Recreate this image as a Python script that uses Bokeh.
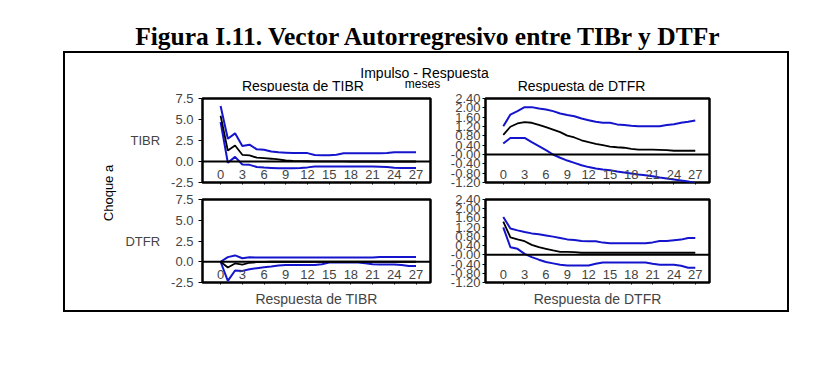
import math
from bokeh.plotting import figure
from bokeh.layouts import column, row
from bokeh.models import Span, FixedTicker, Spacer, Range1d, AllLabels
from bokeh.embed import file_html
from bokeh.resources import INLINE
from bokeh.core.properties import value

# ---------------- data ----------------
periods = list(range(28))
x_ticks = [0, 3, 6, 9, 12, 15, 18, 21, 24, 27]
x_tick_labels = ["0", "3", "6", "9", "12", "15", "18", "21", "24", "27"]
left_y_ticks = [-2.5, 0.0, 2.5, 5.0, 7.5]
left_y_labels = ["-2.5", "0.0", "2.5", "5.0", "7.5"]
right_y_ticks = [-1.2, -0.8, -0.4, 0.0, 0.4, 0.8, 1.2, 1.6, 2.0, 2.4]
right_y_labels = ["-1.20", "-0.80", "-0.40", "-0.00", "0.40", "0.80", "1.20", "1.60", "2.00", "2.40"]

# shock TIBR -> response TIBR
tibr_tibr = [5.45, 1.3, 1.9, 0.8, 0.73, 0.45, 0.4, 0.33, 0.25, 0.12, 0.06, 0.04, 0.03, 0.02, 0.02, 0.01,
             0.01, 0.01, 0.0, 0.0, 0.0, 0.0, 0.0, 0.0, 0.0, 0.0, 0.0, 0.0]
tibr_tibr_hi = [6.6, 2.7, 3.35, 1.85, 2.0, 1.45, 1.4, 1.2, 1.1, 1.05, 1.0, 1.0, 1.0, 0.78, 0.75, 0.75,
                0.8, 0.97, 0.97, 0.97, 0.97, 0.97, 0.97, 1.0, 1.1, 1.1, 1.1, 1.1]
tibr_tibr_lo = [4.7, -0.15, 0.55, -0.35, -0.4, -0.65, -0.72, -0.76, -0.8, -0.8, -0.8, -0.78, -0.7, -0.6,
                -0.6, -0.6, -0.6, -0.6, -0.6, -0.6, -0.6, -0.6, -0.62, -0.66, -0.75, -0.78, -0.78, -0.78]

# shock TIBR -> response DTFR
tibr_dtfr = [0.84, 1.19, 1.33, 1.39, 1.36, 1.27, 1.17, 1.07, 0.96, 0.81, 0.73, 0.61, 0.53, 0.46, 0.40,
             0.34, 0.31, 0.29, 0.24, 0.21, 0.21, 0.21, 0.2, 0.19, 0.16, 0.16, 0.16, 0.16]
tibr_dtfr_hi = [1.21, 1.71, 1.86, 2.03, 2.03, 1.97, 1.93, 1.86, 1.76, 1.69, 1.64, 1.54, 1.47, 1.40, 1.36,
                1.36, 1.29, 1.26, 1.23, 1.21, 1.21, 1.21, 1.21, 1.26, 1.30, 1.36, 1.40, 1.46]
tibr_dtfr_lo = [0.47, 0.71, 0.71, 0.71, 0.53, 0.36, 0.19, 0.0, -0.14, -0.26, -0.36, -0.46, -0.54, -0.6,
                -0.64, -0.67, -0.73, -0.77, -0.81, -0.86, -0.89, -0.93, -0.99, -1.03, -1.07, -1.11, -1.16, -1.22]

# shock DTFR -> response TIBR
dtfr_tibr = [0.0, -0.7, -0.2, -0.35, -0.12, -0.05, -0.02, 0.0, 0.0, 0.0, 0.0, 0.0, 0.0, 0.0, 0.0, 0.0,
             0.0, 0.0, 0.0, 0.0, 0.0, 0.0, 0.0, 0.0, 0.0, 0.0, 0.0, 0.0]
dtfr_tibr_hi = [0.0, 0.56, 0.76, 0.42, 0.54, 0.5, 0.52, 0.5, 0.5, 0.5, 0.5, 0.5, 0.5, 0.5, 0.5, 0.5,
                0.5, 0.5, 0.5, 0.5, 0.5, 0.52, 0.58, 0.58, 0.58, 0.58, 0.58, 0.58]
dtfr_tibr_lo = [0.0, -2.3, -1.05, -1.1, -0.9, -0.78, -0.66, -0.58, -0.46, -0.38, -0.38, -0.38, -0.38, -0.38,
                -0.3, -0.1, -0.1, -0.1, -0.1, -0.1, -0.18, -0.3, -0.34, -0.34, -0.34, -0.38, -0.5, -0.5]

# shock DTFR -> response DTFR
dtfr_dtfr = [1.44, 0.76, 0.67, 0.59, 0.43, 0.33, 0.26, 0.19, 0.13, 0.13, 0.12, 0.09, 0.09, 0.09, 0.09,
             0.09, 0.09, 0.09, 0.09, 0.09, 0.09, 0.09, 0.09, 0.09, 0.09, 0.09, 0.09, 0.09]
dtfr_dtfr_hi = [1.64, 1.14, 1.06, 0.99, 0.93, 0.89, 0.84, 0.79, 0.73, 0.67, 0.64, 0.6, 0.59, 0.59, 0.53,
                0.5, 0.5, 0.5, 0.5, 0.5, 0.5, 0.54, 0.6, 0.6, 0.63, 0.66, 0.73, 0.73]
dtfr_dtfr_lo = [1.19, 0.33, 0.26, 0.04, -0.1, -0.21, -0.31, -0.37, -0.43, -0.46, -0.46, -0.46, -0.46, -0.39,
                -0.33, -0.33, -0.33, -0.33, -0.33, -0.33, -0.33, -0.39, -0.43, -0.43, -0.43, -0.47, -0.56, -0.56]

title_text = "Figura I.11. Vector Autorregresivo entre TIBr y DTFr"
header_texts = ["Impulso - Respuesta", "meses", "Respuesta de TIBR", "Respuesta de DTFR"]

# ---------------- styling ----------------
SANS_NAME = "Liberation Sans"
SANS = value(SANS_NAME)
BLUE = "#1414CC"


def blank(w, h):
    p = figure(width=w, height=h, x_range=Range1d(0, w), y_range=Range1d(h, 0),
               x_axis_type=None, y_axis_type=None, min_border=0,
               output_backend="svg", toolbar_location=None)
    p.outline_line_color = None
    p.grid.visible = False
    return p


def panel(resp, hi, lo, yrange, yticks, ylabels, side, ylabel=None, xlabel=None,
          top=6, bottom=8, fh=84):
    if side == "left":
        mbl, fw, mbr = 82, 228, 14
    else:
        mbl, fw, mbr = 41, 224, 78
    p = figure(frame_width=fw, frame_height=fh, min_border_left=mbl, min_border_right=mbr,
               min_border_top=top, min_border_bottom=bottom,
               x_range=Range1d(-2.5, 29), y_range=Range1d(*yrange),
               output_backend="svg", toolbar_location=None)
    p.grid.visible = False
    p.outline_line_color = "black"
    p.outline_line_width = 2.5
    p.add_layout(Span(location=0, dimension="width", line_color="black", line_width=2))
    p.line(periods, hi, line_color=BLUE, line_width=2)
    p.line(periods, lo, line_color=BLUE, line_width=2)
    p.line(periods, resp, line_color="black", line_width=1.8)

    xa = p.xaxis[0]
    xa.ticker = FixedTicker(ticks=x_ticks, minor_ticks=[])
    xa.major_label_overrides = dict(zip(x_ticks, x_tick_labels))
    xa.major_label_policy = AllLabels()
    xa.axis_line_color = None
    xa.major_tick_in = 0
    xa.major_tick_out = 2
    xa.minor_tick_out = 0
    xa.major_label_standoff = -15
    xa.major_label_text_font = SANS_NAME
    xa.major_label_text_font_size = "13px"
    if xlabel:
        xa.axis_label = xlabel
        xa.axis_label_text_font = SANS_NAME
        xa.axis_label_text_font_size = "14px"
        xa.axis_label_text_font_style = "normal"
        xa.axis_label_standoff = 9

    ya = p.yaxis[0]
    ya.ticker = FixedTicker(ticks=yticks, minor_ticks=[])
    ya.major_label_overrides = dict(zip(yticks, ylabels))
    ya.major_label_policy = AllLabels()
    ya.axis_line_color = None
    ya.major_tick_in = 0
    ya.minor_tick_out = 0
    ya.major_label_text_font = SANS_NAME
    ya.major_label_text_font_size = "13px"
    if side == "left":
        ya.major_tick_out = 4
        ya.major_label_standoff = 5
    else:
        ya.major_tick_out = 3
        ya.major_label_standoff = 2
    if ylabel:
        ya.axis_label = ylabel
        ya.axis_label_orientation = "horizontal"
        ya.axis_label_text_font = SANS_NAME
        ya.axis_label_text_font_size = "13px"
        ya.axis_label_text_font_style = "normal"
        ya.axis_label_standoff = 8
    return p


# ---------------- title ----------------
title_fig = blank(808, 51)
title_fig.text(x=[428.5], y=[35.5], text=[title_text], text_font=value("Liberation Serif"),
               text_font_style="bold", text_font_size="25.5px", text_align="center",
               text_baseline="middle", text_color="black")

# ---------------- header inside the box ----------------
header = blank(722, 39)
header.text(x=[359], y=[19], text=[header_texts[0]], text_font=SANS, text_font_size="14px",
            text_align="center", text_baseline="middle", text_color="black")
header.text(x=[357], y=[30], text=[header_texts[1]], text_font=SANS, text_font_size="12px",
            text_align="center", text_baseline="middle", text_color="black")
header.text(x=[237.5, 516], y=[32, 32], text=header_texts[2:], text_font=SANS, text_font_size="14px",
            text_align="center", text_baseline="middle", text_color="black")

# ---------------- side label ----------------
side = blank(55, 218)
side.text(x=[43], y=[100.5], text=["Choque a"], text_font=SANS, text_font_size="13px",
          angle=math.pi / 2, text_align="center", text_baseline="middle", text_color="black")

# ---------------- panels ----------------
tl = panel(tibr_tibr, tibr_tibr_hi, tibr_tibr_lo, (-2.5, 7.5), left_y_ticks, left_y_labels,
           "left", ylabel="TIBR", top=6, bottom=8, fh=84)
tr = panel(tibr_dtfr, tibr_dtfr_hi, tibr_dtfr_lo, (-1.2, 2.4), right_y_ticks, right_y_labels,
           "right", top=6, bottom=8, fh=84)
bl = panel(dtfr_tibr, dtfr_tibr_hi, dtfr_tibr_lo, (-2.5, 7.5), left_y_ticks, left_y_labels,
           "left", ylabel="DTFR", xlabel="Respuesta de TIBR", top=9, bottom=28, fh=83)
br = panel(dtfr_dtfr, dtfr_dtfr_hi, dtfr_dtfr_lo, (-1.2, 2.4), right_y_ticks, right_y_labels,
           "right", xlabel="Respuesta de DTFR", top=9, bottom=28, fh=83)

box = column(header, row(side, column(row(tl, tr), row(bl, br))),
             styles={"border": "2px solid black"})
layout = column(title_fig, row(Spacer(width=63, height=10), box))

with open("out.html", "w") as f:
    f.write(file_html(layout, INLINE))
